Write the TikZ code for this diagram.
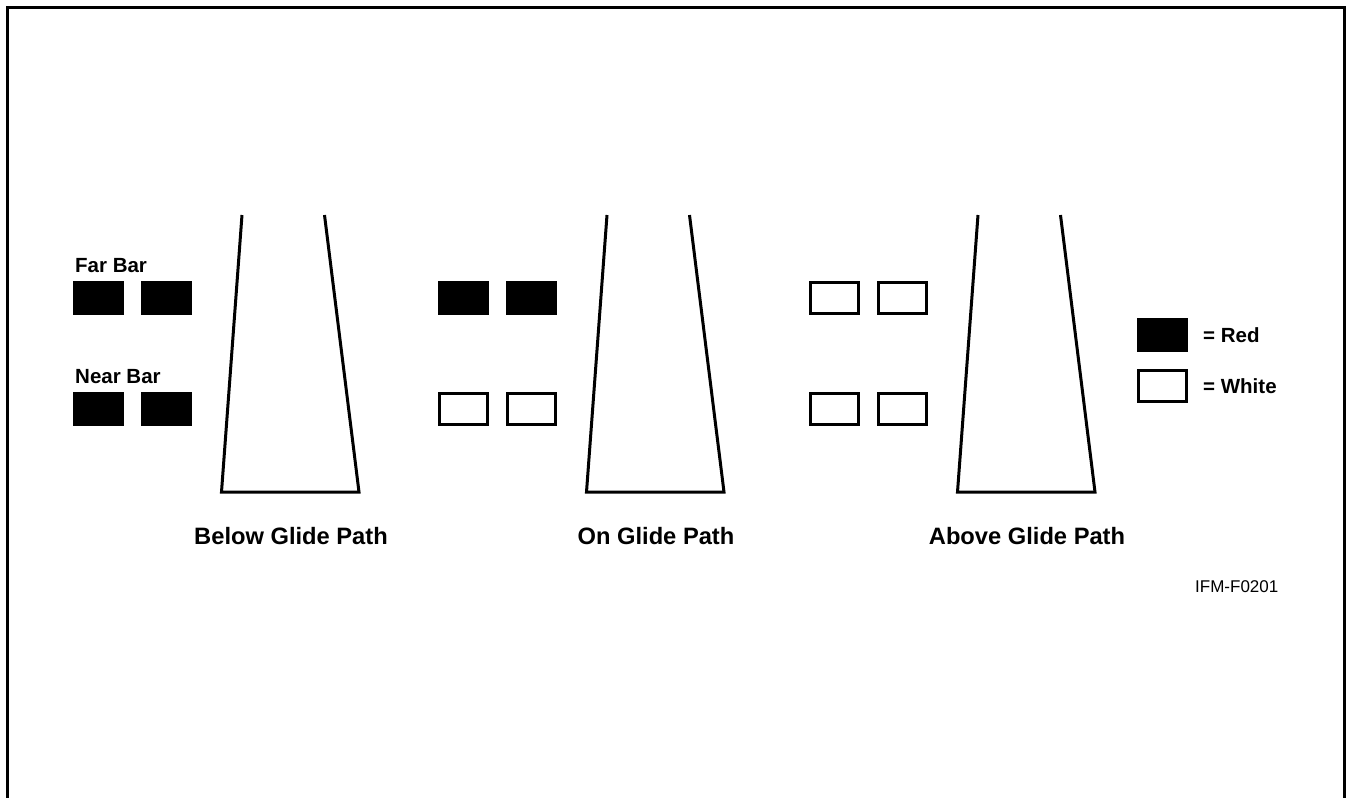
\documentclass[tikz,border=0pt]{standalone}
\usepackage{fontspec}
\setmainfont{Liberation Sans}
\usetikzlibrary{positioning}
\tikzset{
bar/.style={draw,line width=3pt,minimum width=48pt,minimum height=31pt,inner sep=0pt},
runway/.style={line width=3pt,line join=miter},
frame/.style={line width=3pt},
barlabel/.style={font=\fontsize{20.5}{23}\bfseries\selectfont,anchor=base west,inner sep=0pt},
caption/.style={font=\fontsize{23.7}{27}\bfseries\selectfont,anchor=base,inner sep=0pt},
keylabel/.style={font=\fontsize{20.5}{23}\bfseries\selectfont,anchor=base west,inner sep=0pt}
}

\begin{document}
\begin{tikzpicture}[x=1pt,y=-1pt]
\useasboundingbox (0,0) rectangle (1347,798);
\draw[frame] (7,798) -- (7,7) -- (1344,7) -- (1344,798);

% three runway views
\foreach \gx/\gname/\farfill/\nearfill/\txt in
  {0/below/black/black/Below Glide Path,
   365/on/black/white/On Glide Path,
   736/above/white/white/Above Glide Path}{
  \node[bar,fill=\farfill] (\gname-far1) at (98.5+\gx,298) {};
  \node[bar,fill=\farfill] (\gname-far2) at (166.5+\gx,298) {};
  \node[bar,fill=\nearfill] (\gname-near1) at (98.5+\gx,408.5) {};
  \node[bar,fill=\nearfill] (\gname-near2) at (166.5+\gx,408.5) {};
  \draw[runway] (242+\gx,215) -- (221.5+\gx,492) -- (359+\gx,492) -- (324.5+\gx,215);
  \node[caption] (\gname-cap) at (291+\gx,544) {\txt};
}

\node[barlabel] (farlabel) at (75,272.5) {Far Bar};
\node[barlabel] (nearlabel) at (75,383) {Near Bar};

% legend
\node[bar,fill=black] (keyred) at (1162,335) {};
\node[bar,fill=white] (keywhite) at (1162,385.5) {};
\node[keylabel] (redtext) at (1203,342) {= Red};
\node[keylabel] (whitetext) at (1203,393) {= White};

\node[font=\fontsize{17}{20}\selectfont,anchor=base west,inner sep=0pt] (figid) at (1195,592) {IFM-F0201};
\end{tikzpicture}
\end{document}
